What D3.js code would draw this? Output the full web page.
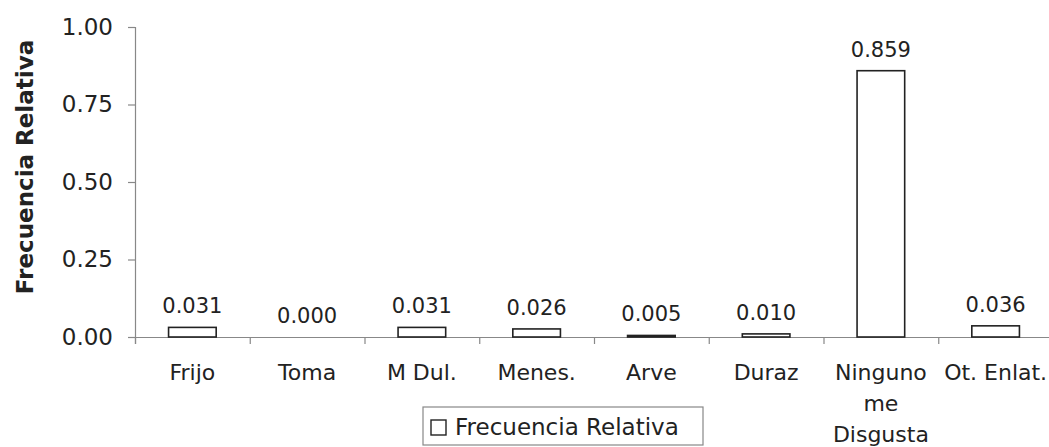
<!DOCTYPE html>
<html>
<head>
<meta charset="utf-8">
<script src="https://cdn.jsdelivr.net/npm/d3@7"></script>
<style>
  html, body { margin: 0; padding: 0; background: #fff; }
  svg { display: block; }
  text { font-family: "DejaVu Sans", sans-serif; fill: #222; }
</style>
</head>
<body>
<svg id="chart" width="1049" height="447"></svg>
<script>
const categories = [["Frijo"], ["Toma"], ["M Dul."], ["Menes."], ["Arve"], ["Duraz"], ["Ninguno", "me", "Disgusta"], ["Ot. Enlat."]];
const values = [0.031, 0.000, 0.031, 0.026, 0.005, 0.010, 0.859, 0.036];
const yTicks = [0, 0.25, 0.5, 0.75, 1.0];
const seriesName = "Frecuencia Relativa";
const yTitle = "Frecuencia Relativa";

(function () {
const svg = d3.select("#chart");
const mLeft = 135, mRight = 1053, mTop = 27, mBottom = 337;

const keys = categories.map((c, i) => i);
const x = d3.scaleBand().domain(keys).range([mLeft, mRight]).padding(0);
const y = d3.scaleLinear().domain([0, 1]).range([mBottom, mTop]);
const barW = x.bandwidth() * 0.415;

// Y axis
const yAxis = d3.axisLeft(y).tickValues(yTicks).tickFormat(d3.format(".2f")).tickSize(7).tickPadding(15);
const gy = svg.append("g").attr("transform", `translate(${mLeft},0)`).call(yAxis);
gy.select(".domain").attr("stroke", "#888").attr("stroke-width", 1.2);
gy.selectAll(".tick line").attr("stroke", "#888").attr("stroke-width", 1.2);
gy.selectAll(".tick text").style("font-size", "23px").attr("fill", "#222").attr("font-family", "DejaVu Sans");

// X axis (ticks between categories)
const xEdges = d3.scaleLinear().domain([0, categories.length]).range([mLeft, mRight]);
const xAxis = d3.axisBottom(xEdges).tickValues(d3.range(0, categories.length + 1)).tickSize(7).tickFormat("");
const gx = svg.append("g").attr("transform", `translate(0,${mBottom})`).call(xAxis);
gx.select(".domain").attr("stroke", "#888").attr("stroke-width", 1.2);
gx.selectAll(".tick line").attr("stroke", "#888").attr("stroke-width", 1.2);

// Bars
svg.append("g").selectAll("rect").data(values).join("rect")
  .attr("x", (d, i) => x(i) + x.bandwidth() / 2 - barW / 2)
  .attr("y", d => y(d))
  .attr("width", barW)
  .attr("height", d => Math.max(0, y(0) - y(d)))
  .attr("fill", "#fff")
  .attr("stroke", "#222")
  .attr("stroke-width", 1.6);

// Value labels
svg.append("g").selectAll("text").data(values).join("text")
  .attr("x", (d, i) => x(i) + x.bandwidth() / 2)
  .attr("y", d => y(d) - 14)
  .attr("text-anchor", "middle")
  .style("font-size", "21px")
  .text(d => d3.format(".3f")(d));

// Category labels
const cl = svg.append("g").selectAll("text").data(categories).join("text")
  .attr("text-anchor", "middle")
  .style("font-size", "22px")
  .attr("transform", (d, i) => `translate(${x(i) + x.bandwidth() / 2},380)`);
cl.selectAll("tspan").data(d => d).join("tspan")
  .attr("x", 0)
  .attr("y", (d, j) => j * 31)
  .text(d => d);

// Y title
svg.append("text")
  .attr("transform", "translate(33,167) rotate(-90)")
  .attr("text-anchor", "middle")
  .style("font-size", "23px")
  .style("font-weight", "bold")
  .text(yTitle);

// Legend
const lg = svg.append("g");
lg.append("rect").attr("x", 423).attr("y", 407).attr("width", 280).attr("height", 38)
  .attr("fill", "#fff").attr("stroke", "#888").attr("stroke-width", 1.2);
lg.append("rect").attr("x", 431).attr("y", 420).attr("width", 15).attr("height", 15)
  .attr("fill", "#fff").attr("stroke", "#222").attr("stroke-width", 1.4);
lg.append("text").attr("x", 455).attr("y", 435).style("font-size", "23px").text(seriesName);
})();
</script>
</body>
</html>
